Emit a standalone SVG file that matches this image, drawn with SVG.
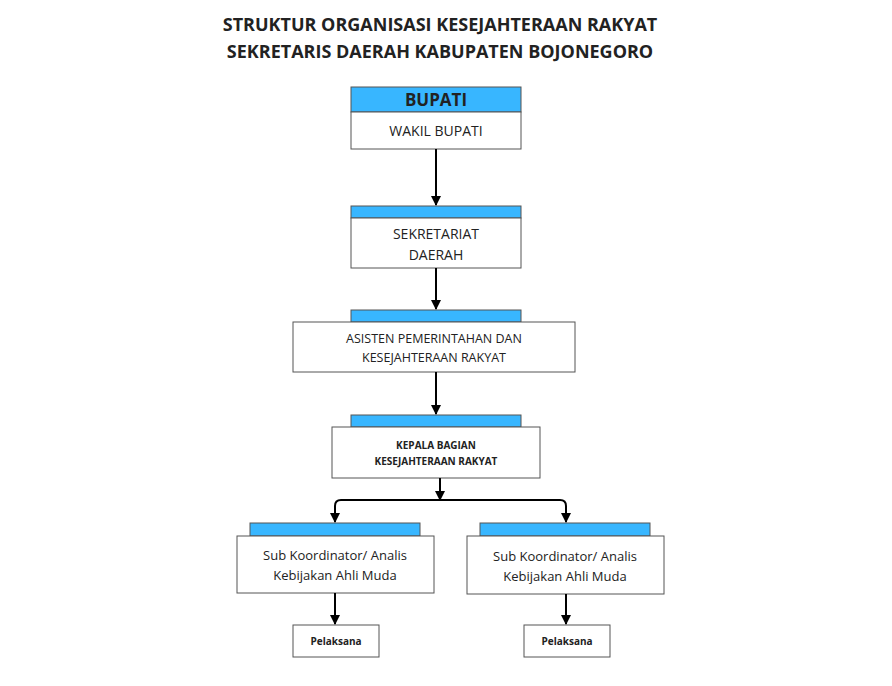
<svg xmlns="http://www.w3.org/2000/svg" width="892" height="686" viewBox="0 0 892 686">
<defs>
<style>
.bar{fill:#38b6ff;stroke:#555;stroke-width:1}
.box{fill:#fff;stroke:#555;stroke-width:1}
.t{font-family:"Open Sans","Liberation Sans",sans-serif;fill:#222;text-anchor:middle}
.c{fill:none;stroke:#000;stroke-width:2;marker-end:url(#a)}
</style>
<marker id="a" viewBox="0 0 10 10" refX="9" refY="5" markerWidth="5" markerHeight="5" orient="auto"><path d="M0,0L10,5L0,10z" fill="#000"/></marker>
</defs>
<rect width="892" height="686" fill="#fff"/>
<text class="t" x="440" y="31" font-size="18" font-weight="bold" fill="#000">STRUKTUR ORGANISASI KESEJAHTERAAN RAKYAT</text>
<text class="t" x="440" y="58" font-size="18" font-weight="bold" fill="#000">SEKRETARIS DAERAH KABUPATEN BOJONEGORO</text>
<g id="bupati"><rect class="bar" x="351" y="87" width="170" height="25"/><text class="t" x="436" y="106" font-size="17" font-weight="bold" fill="#000">BUPATI</text>
<rect class="box" x="351" y="112" width="170" height="37"/><text class="t" x="436" y="136" font-size="14">WAKIL BUPATI</text></g>
<g id="sekda"><rect class="bar" x="351" y="206" width="170" height="12"/><rect class="box" x="351" y="218" width="170" height="50"/>
<text class="t" x="436" y="239" font-size="14">SEKRETARIAT</text><text class="t" x="436" y="260" font-size="14">DAERAH</text></g>
<g id="asisten"><rect class="bar" x="351" y="310" width="170" height="12"/><rect class="box" x="293" y="322" width="282" height="50"/>
<text class="t" x="434" y="343" font-size="12.5">ASISTEN PEMERINTAHAN DAN</text><text class="t" x="434" y="362" font-size="12.5">KESEJAHTERAAN RAKYAT</text></g>
<g id="kabag"><rect class="bar" x="351" y="415" width="170" height="12"/><rect class="box" x="332" y="427" width="208" height="51"/>
<text class="t" x="436" y="449" font-size="10" font-weight="bold">KEPALA BAGIAN</text><text class="t" x="436" y="465" font-size="10" font-weight="bold">KESEJAHTERAAN RAKYAT</text></g>
<g id="sub1"><rect class="bar" x="250" y="523" width="170" height="13"/><rect class="box" x="237" y="536" width="197" height="57"/>
<text class="t" x="335" y="560" font-size="13">Sub Koordinator/ Analis</text><text class="t" x="335" y="580" font-size="13">Kebijakan Ahli Muda</text></g>
<g id="sub2"><rect class="bar" x="480" y="523" width="170" height="13"/><rect class="box" x="467" y="536" width="197" height="58"/>
<text class="t" x="565" y="561" font-size="13">Sub Koordinator/ Analis</text><text class="t" x="565" y="581" font-size="13">Kebijakan Ahli Muda</text></g>
<g id="pel1"><rect class="box" x="293" y="625" width="86" height="32"/><text class="t" x="336" y="645" font-size="10" font-weight="bold">Pelaksana</text></g>
<g id="pel2"><rect class="box" x="524" y="625" width="86" height="32"/><text class="t" x="567" y="645" font-size="10" font-weight="bold">Pelaksana</text></g>
<g id="connectors">
<path class="c" d="M436,149V205"/>
<path class="c" d="M436,268V309"/>
<path class="c" d="M436,372V414"/>
<path class="c" d="M440,478V500"/>
<path class="c" d="M440,500H341Q335,500 335,506V522"/>
<path class="c" d="M440,500H560Q566,500 566,506V522"/>
<path class="c" d="M335,593V624"/>
<path class="c" d="M566,594V624"/>
</g>
</svg>
